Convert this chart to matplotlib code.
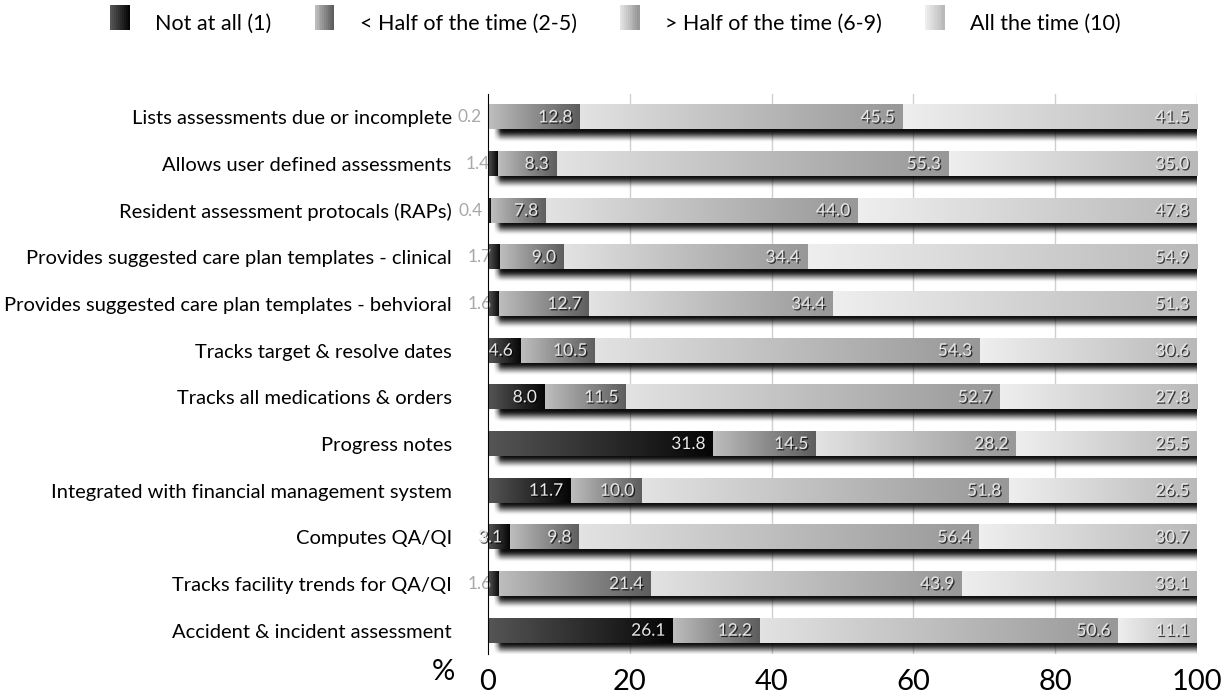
import numpy as np
import matplotlib
matplotlib.use("Agg")
from matplotlib import pyplot as plt
from matplotlib import patheffects as pe
from matplotlib.colors import LinearSegmentedColormap
from matplotlib.patches import Rectangle
from matplotlib.legend_handler import HandlerBase

categories = [
	"Lists assessments due or incomplete",
	"Allows user defined assessments",
	"Resident assessment protocals (RAPs)",
	"Provides suggested care plan templates - clinical",
	"Provides suggested care plan templates - behvioral",
	"Tracks target & resolve dates",
	"Tracks all medications & orders",
	"Progress notes",
	"Integrated with financial management system",
	"Computes QA/QI",
	"Tracks facility trends for QA/QI",
	"Accident & incident assessment",
]
not_at_all = [0.2, 1.4, 0.4, 1.7, 1.6, 4.6, 8.0, 31.8, 11.7, 3.1, 1.6, 26.1]
lt_half = [12.8, 8.3, 7.8, 9.0, 12.7, 10.5, 11.5, 14.5, 10.0, 9.8, 21.4, 12.2]
gt_half = [45.5, 55.3, 44.0, 34.4, 34.4, 54.3, 52.7, 28.2, 51.8, 56.4, 43.9, 50.6]
all_time = [41.5, 35.0, 47.8, 54.9, 51.3, 30.6, 27.8, 25.5, 26.5, 30.7, 33.1, 11.1]
series_names = ["Not at all (1)", "< Half of the time (2-5)", "> Half of the time (6-9)", "All the time (10)"]
xticks = [0, 20, 40, 60, 80, 100]

# gradient colours, left -> right
grad = [("#555555", "#060606"), ("#bdbdbd", "#5e5e5e"), ("#e2e2e2", "#989898"), ("#eeeeee", "#b9b9b9")]

plt.rcParams['font.family'] = ['Lato', 'DejaVu Sans']

fig = plt.figure(figsize=(12.31, 6.98), dpi=100)
ax = fig.add_axes([0.3964, 0.0630, 0.5760, 0.8023])

series = [not_at_all, lt_half, gt_half, all_time]
n = len(categories)
bh = 0.52
ramp = np.linspace(0, 1, 64).reshape(1, -1)

# soft shadow image (alpha falls off smoothly at the edges)
def edge(m, frac):
	t = np.linspace(0, 1, m)
	a = np.clip(np.minimum(t, 1 - t) / frac, 0, 1)
	return a * a * (3 - 2 * a)

shadow = np.zeros((40, 200, 4))
shadow[..., 3] = 0.95 * np.outer(edge(40, 0.4), edge(200, 0.012))

for i in range(n):
	y = i
	tot = sum(s[i] for s in series)
	ax.imshow(shadow, aspect="auto", extent=[0.6, tot + 1.6, y + bh / 2 + 0.28, y - bh / 2 + 0.12],
		zorder=1, interpolation="bilinear")
	left = 0.0
	for j, s in enumerate(series):
		v = s[i]
		cm = LinearSegmentedColormap.from_list("g%d" % j, grad[j])
		ax.imshow(ramp, cmap=cm, aspect="auto", extent=[left, left + v, y + bh / 2, y - bh / 2],
			zorder=2, interpolation="bilinear")
		xt = left + v - 1.1
		col = "#a8a8a8" if xt < 1 else "#e6e6e6"
		eff = [] if xt < 1 else [pe.SimplePatchShadow(offset=(1, -1), shadow_rgbFace="black", alpha=0.7), pe.Normal()]
		ax.text(xt, y, "%.1f" % v, ha="right", va="center", fontsize=12.5, color=col,
			path_effects=eff, zorder=4)
		left += v

ax.set_xlim(0, 100)
ax.set_ylim(n - 0.5, -0.5)
ax.set_yticks(range(n))
ax.set_yticklabels(categories, fontsize=14.5)
ax.tick_params(axis="y", length=0, pad=26)
ax.set_xticks(xticks)
ax.set_xticklabels([str(t) for t in xticks], fontsize=21)
ax.tick_params(axis="x", length=0, pad=11)
for t in xticks[1:]:
	ax.axvline(t, color="#d0d0d0", lw=1, zorder=0)
for sp in ["top", "right", "bottom"]:
	ax.spines[sp].set_visible(False)
ax.spines["left"].set_color("black")
ax.spines["left"].set_zorder(5)
fig.text(0.351, 0.0555, "%", fontsize=21, ha="left", va="top")


class GradHandler(HandlerBase):
	def __init__(self, c0, c1):
		super().__init__()
		self.c0, self.c1 = c0, c1

	def create_artists(self, legend, orig, xd, yd, w, h, fs, trans):
		arts = []
		cm = LinearSegmentedColormap.from_list("lg", [self.c0, self.c1])
		steps = 10
		for k in range(steps):
			arts.append(Rectangle((xd + w * k / steps, yd - 2), w / steps + 0.3, h + 4,
				facecolor=cm(k / (steps - 1)), edgecolor="none", transform=trans))
		return arts


handles = [Rectangle((0, 0), 1, 1) for _ in series_names]
fig.legend(handles, series_names, loc="upper center", ncol=4, frameon=False,
	fontsize=15.5, bbox_to_anchor=(0.5, 1.01), handlelength=0.9, handleheight=1.0,
	columnspacing=2.0, handletextpad=1.2,
	handler_map={h: GradHandler(*grad[k]) for k, h in enumerate(handles)})

fig.savefig("out.png", dpi=100)
